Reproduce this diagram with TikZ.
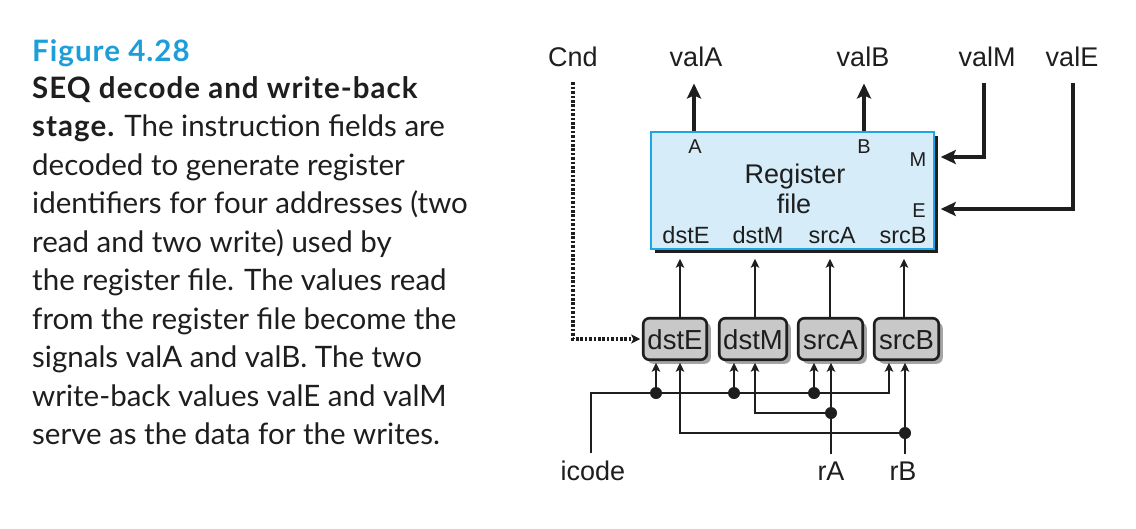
\documentclass[tikz,border=0pt]{standalone}
\usepackage{fontspec}
\setmainfont{Liberation Sans}
\newfontfamily\capfont{Lato}
\newfontfamily\capbfont{Lato}[LetterSpace=3.5]
\usetikzlibrary{arrows.meta,shadows,calc}
\definecolor{figblue}{RGB}{28,158,218}
\definecolor{rffill}{RGB}{214,236,249}
\definecolor{rfedge}{RGB}{30,165,230}
\definecolor{boxgray}{RGB}{200,200,200}
\definecolor{shgray}{RGB}{165,165,165}
\definecolor{ink}{RGB}{30,30,30}
\begin{document}
\begin{tikzpicture}[x=1pt,y=-1pt,
  lbl/.style={inner sep=0pt, anchor=base, font=\fontsize{27}{30}\selectfont, text=ink},
  port/.style={inner sep=0pt, anchor=base, font=\fontsize{20}{22}\selectfont, text=ink},
  rport/.style={inner sep=0pt, anchor=base, font=\fontsize{23.5}{26}\selectfont, text=ink},
  captxt/.style={inner sep=0pt, anchor=base west, font=\capfont\fontsize{29.5}{32}\selectfont, text=ink},
  regbox/.style={draw=rfedge, line width=1.5pt, fill=rffill, minimum width=283pt, minimum height=117pt, inner sep=0pt,
     drop shadow={shadow xshift=4pt, shadow yshift=-4pt, fill=ink, opacity=1}},
  sbox/.style={draw=ink, line width=2.6pt, fill=boxgray, rounded corners=6pt, minimum height=41.5pt, inner sep=0pt, outer sep=3pt,
     text height=20pt, text depth=0pt, font=\fontsize{27.5}{30}\selectfont, text=ink,
     drop shadow={shadow xshift=4pt, shadow yshift=-4pt, fill=shgray, opacity=1}},
  thk/.style={line width=4.2pt, draw=ink, -{Stealth[length=15pt,width=14pt,inset=3pt]}},
  thn/.style={line width=1.5pt, draw=ink, -{Stealth[length=9pt,width=8.5pt,inset=2pt]}},
  dotl/.style={line width=3.2pt, draw=ink, dash pattern=on 2.6pt off 1.8pt, -{Stealth[length=9pt,width=9pt,inset=2pt]}},
  jdot/.style={circle, fill=ink, inner sep=0pt, minimum size=12pt}
]
\useasboundingbox (0,0) rectangle (1136,528);
\fill[white] (0,0) rectangle (1136,528);

% caption
\node[inner sep=0pt, anchor=base west, font=\capbfont\bfseries\fontsize{29.5}{32}\selectfont, text=figblue] (figno) at (32,61) {Figure 4.28};
\node[captxt] (c1) at (32,98) {\capbfont\bfseries SEQ decode and write-back};
\node[captxt] (c2) at (32,136.5) {{\capbfont\bfseries stage.} The instruction fields are};
\node[captxt] (c3) at (32,175) {decoded to generate register};
\node[captxt] (c4) at (32,213.5) {identifiers for four addresses (two};
\node[captxt] (c5) at (32,252) {read and two write) used by};
\node[captxt] (c6) at (32,290.5) {the register file. The values read};
\node[captxt] (c7) at (32,329) {from the register file become the};
\node[captxt] (c8) at (32,367.5) {signals valA and valB. The two};
\node[captxt] (c9) at (32,406) {write-back values valE and valM};
\node[captxt] (c10) at (32,444.5) {serve as the data for the writes.};

% top labels
\node[lbl] (Cnd) at (573,66) {Cnd};
\node[lbl] (valA) at (696,66) {valA};
\node[lbl] (valB) at (863,66) {valB};
\node[lbl] (valM) at (987,66) {valM};
\node[lbl] (valE) at (1072,66) {valE};

% register file
\node[regbox] (rf) at (792.5,190.5) {};
\node[port] (pA) at (695,153) {A};
\node[port] (pB) at (864,153) {B};
\node[port] (pM) at (918,166) {M};
\node[port] (pE) at (919,217) {E};
\node[lbl] (rfl1) at (795,183) {Register};
\node[lbl] (rfl2) at (794,213) {file};
\node[rport] (rdstE) at (686,243) {dstE};
\node[rport] (rdstM) at (758,243) {dstM};
\node[rport] (rsrcA) at (832,243) {srcA};
\node[rport] (rsrcB) at (903,243) {srcB};

% small boxes
\node[sbox, minimum width=63.5pt] (dstE) at (675,339) {dstE};
\node[sbox, minimum width=67.5pt] (dstM) at (753,339) {dstM};
\node[sbox, minimum width=64.5pt] (srcA) at (830.5,339) {srcA};
\node[sbox, minimum width=64.5pt] (srcB) at (906.5,339) {srcB};

% bottom labels
\node[lbl] (icode) at (593,480) {icode};
\node[lbl] (rA) at (831,480) {rA};
\node[lbl] (rB) at (903,480) {rB};

% thick outputs / inputs
\draw[thk] ($(rf.north)+(-98.5,0)$) -- ($(valA.south)+(-2,17)$);
\draw[thk] ($(rf.north)+(71.5,0)$) -- ($(valB.south)+(1,17)$);
\draw[thk] ($(valM.south)+(-3,17)$) |- ($(rf.east)+(6,-33.5)$);
\draw[thk] ($(valE.south)+(1,17)$) |- ($(rf.east)+(6,18.5)$);

% box -> register file
\draw[thn] ($(dstE.north)+(5,3)$) -- ($(rf.south -| dstE.north)+(5,9)$);
\draw[thn] ($(dstM.north)+(2,3)$) -- ($(rf.south -| dstM.north)+(2,9)$);
\draw[thn] ($(srcA.north)+(-0.5,3)$) -- ($(rf.south -| srcA.north)+(-0.5,9)$);
\draw[thn] ($(srcB.north)+(-2.5,3)$) -- ($(rf.south -| srcB.north)+(-2.5,9)$);

% Cnd dotted
\draw[dotl] ($(Cnd.south)+(0,16)$) |- (dstE.west);

% decode wiring
\coordinate (j1) at (656,393);
\coordinate (j2) at (734,393);
\coordinate (j3) at (814,393);
\coordinate (j4) at (889,393);
\coordinate (k1) at (831,413);
\coordinate (k2) at (905,433);
\draw[thn] ($(icode.north)+(-2,-7)$) |- (j4) -- (j4 |- srcB.south);
\draw[thn] (j1) -- (j1 |- dstE.south);
\draw[thn] (j2) -- (j2 |- dstM.south);
\draw[thn] (j3) -- (j3 |- srcA.south);
\draw[thn] ($(rA.north)+(0,-7)$) -- (k1 |- srcA.south);
\draw[thn] (k1) -| ($(dstM.south)+(2,0)$);
\draw[thn] ($(rB.north)+(2,-7)$) -- (k2 |- srcB.south);
\draw[thn] (k2) -| ($(dstE.south)+(5,0)$);
\node[jdot] (d1) at (j1) {};
\node[jdot] (d2) at (j2) {};
\node[jdot] (d3) at (j3) {};
\node[jdot] (d4) at (k1) {};
\node[jdot] (d5) at (k2) {};
\end{tikzpicture}
\end{document}
